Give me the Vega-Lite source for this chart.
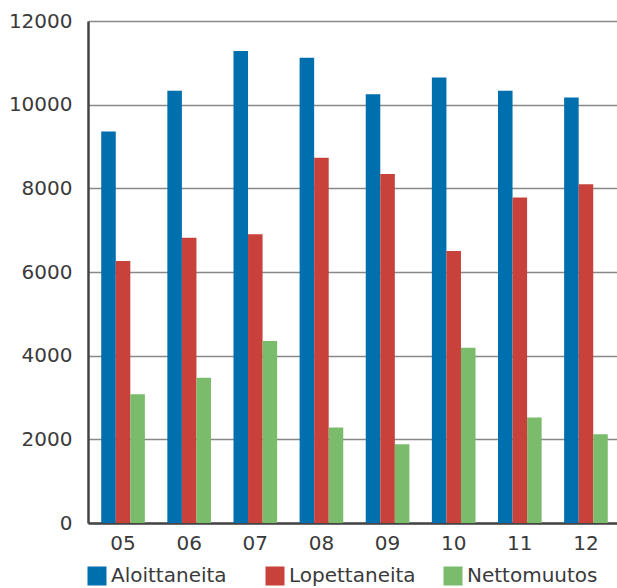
{
  "$schema": "https://vega.github.io/schema/vega-lite/v6.json",
  "autosize": "none",
  "width": 533,
  "height": 502,
  "padding": {"left": 88, "top": 21, "right": 0, "bottom": 65},
  "background": "white",
  "config": {"view": {"stroke": null}, "font": "DejaVu Sans"},
  "data": {"values": [
    {"v": "05", "s": "Aloittaneita", "n": 9360}, {"v": "05", "s": "Lopettaneita", "n": 6260}, {"v": "05", "s": "Nettomuutos", "n": 3080},
    {"v": "06", "s": "Aloittaneita", "n": 10330}, {"v": "06", "s": "Lopettaneita", "n": 6820}, {"v": "06", "s": "Nettomuutos", "n": 3470},
    {"v": "07", "s": "Aloittaneita", "n": 11280}, {"v": "07", "s": "Lopettaneita", "n": 6900}, {"v": "07", "s": "Nettomuutos", "n": 4350},
    {"v": "08", "s": "Aloittaneita", "n": 11120}, {"v": "08", "s": "Lopettaneita", "n": 8730}, {"v": "08", "s": "Nettomuutos", "n": 2280},
    {"v": "09", "s": "Aloittaneita", "n": 10250}, {"v": "09", "s": "Lopettaneita", "n": 8340}, {"v": "09", "s": "Nettomuutos", "n": 1880},
    {"v": "10", "s": "Aloittaneita", "n": 10650}, {"v": "10", "s": "Lopettaneita", "n": 6500}, {"v": "10", "s": "Nettomuutos", "n": 4190},
    {"v": "11", "s": "Aloittaneita", "n": 10330}, {"v": "11", "s": "Lopettaneita", "n": 7780}, {"v": "11", "s": "Nettomuutos", "n": 2520},
    {"v": "12", "s": "Aloittaneita", "n": 10170}, {"v": "12", "s": "Lopettaneita", "n": 8100}, {"v": "12", "s": "Nettomuutos", "n": 2120}
  ]},
  "mark": {"type": "bar"},
  "encoding": {
    "x": {
      "field": "v", "type": "nominal", "title": null,
      "scale": {"paddingInner": 0.34, "paddingOuter": 0.2},
      "axis": {"labelAngle": 0, "ticks": false, "domainColor": "#444", "domainWidth": 2.5, "labelFontSize": 20, "labelColor": "#3a3a3a", "labelPadding": 10, "grid": false}
    },
    "xOffset": {"field": "s", "type": "nominal", "sort": ["Aloittaneita", "Lopettaneita", "Nettomuutos"]},
    "y": {
      "field": "n", "type": "quantitative", "title": null,
      "scale": {"domain": [0, 12000], "nice": false},
      "axis": {"values": [0, 2000, 4000, 6000, 8000, 10000, 12000], "format": "d", "ticks": false, "domainColor": "#444", "domainWidth": 2.5, "gridColor": "#888", "gridWidth": 1.5, "labelFontSize": 20, "labelColor": "#3a3a3a", "labelPadding": 16, "labelBaseline": "middle"}
    },
    "color": {
      "field": "s", "type": "nominal", "title": null,
      "sort": ["Aloittaneita", "Lopettaneita", "Nettomuutos"],
      "scale": {"domain": ["Aloittaneita", "Lopettaneita", "Nettomuutos"], "range": ["#006fad", "#c8413a", "#7abb6c"]},
      "legend": {"orient": "none", "legendX": -1, "legendY": 545, "direction": "horizontal", "symbolType": "square", "symbolSize": 361, "symbolStrokeWidth": 0, "symbolOpacity": 1, "labelFontSize": 20, "labelColor": "#3a3a3a", "labelOffset": 4, "columnPadding": 23, "gridAlign": "all"}
    }
  }
}
